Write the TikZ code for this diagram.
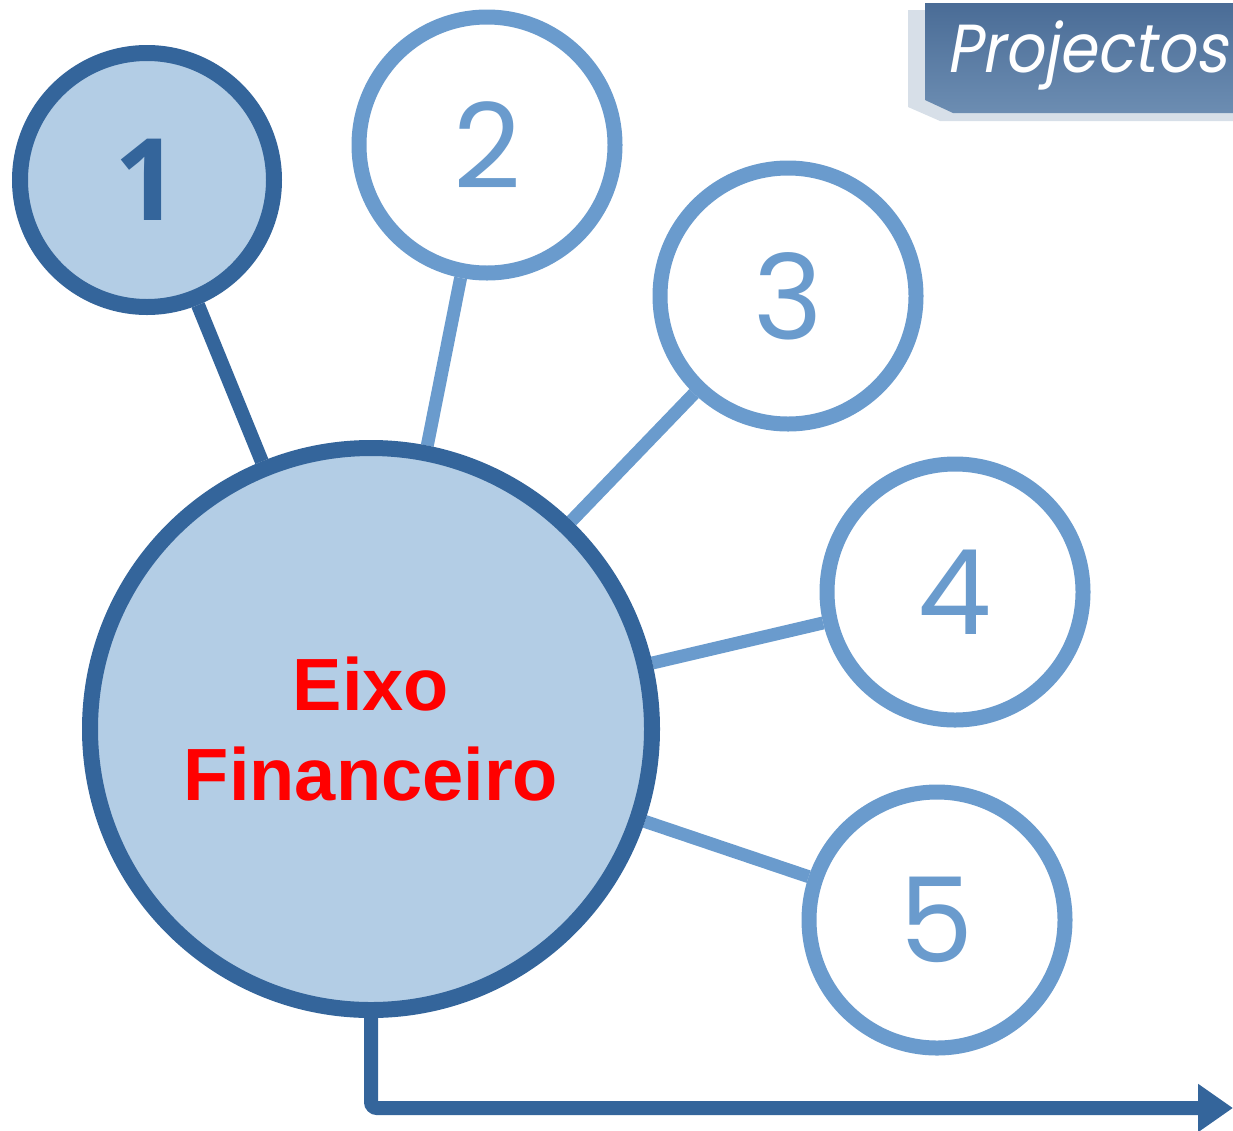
\documentclass[tikz,border=0pt]{standalone}
\usepackage{fontspec}
\setmainfont{Liberation Sans}
\newfontfamily\popfont{Poppins}[AutoFakeSlant=0.2]
\newfontfamily\onefont{Open Sans}
\usetikzlibrary{arrows.meta,backgrounds,shadings}
\definecolor{darkblue}{HTML}{34659B}
\definecolor{lightblue}{HTML}{6A9BCD}
\definecolor{fillblue}{HTML}{B3CDE5}
\definecolor{boxtop}{HTML}{4A6C96}
\definecolor{boxbot}{HTML}{6C8DB2}
\definecolor{shadowc}{HTML}{BCCAD9}
\begin{document}
\begin{tikzpicture}[x=1pt,y=-1pt,
  smallnode/.style={circle,inner sep=0pt,minimum size=256pt,line width=15pt,draw=lightblue,fill=white,
     text=lightblue,font=\popfont\fontsize{118}{118}\selectfont},
  firstnode/.style={circle,inner sep=0pt,minimum size=254pt,line width=16pt,draw=darkblue,fill=fillblue,
     text=darkblue,font=\onefont\bfseries\fontsize{114}{114}\selectfont},
  mainnode/.style={circle,inner sep=0pt,minimum size=562pt,line width=16pt,draw=darkblue,fill=fillblue,
     text=red,font=\bfseries\fontsize{74}{90}\selectfont,align=center},
  darkline/.style={draw=darkblue,line width=14pt},
  lightline/.style={draw=lightblue,line width=13pt}]
\useasboundingbox (0,0) rectangle (1233,1130);
% Projectos box
\fill[shadowc,opacity=0.6] (908,10) -- (1233,10) -- (1233,121) -- (940,121) -- (908,107) -- cycle;
\shade[top color=boxtop,bottom color=boxbot] (925,3) -- (1233,3) -- (1233,113) -- (953,113) -- (925,100) -- cycle;
\node[text=white,anchor=base west,inner sep=0pt,font=\popfont\itshape\fontsize{68}{68}\selectfont] (proj) at (946,72) {\scalebox{0.9}[1]{Projectos}};
% circles
\node[mainnode] (main) at (371,729) {Eixo\\Financeiro};
\node[firstnode] (c1) at (147,180) {1};
\node[smallnode] (c2) at (487,145) {2};
\node[smallnode] (c3) at (788,296) {3};
\node[smallnode] (c4) at (955,592) {4};
\node[smallnode] (c5) at (937,920) {5};
\coordinate (corner) at (371,1108);
\coordinate (tipend) at (1233,1108);
\begin{scope}[on background layer]
\draw[darkline] (c1) -- (main);
\draw[lightline] (c2) -- (main);
\draw[lightline] (c3) -- (main);
\draw[lightline] (c4) -- (main);
\draw[lightline] (c5) -- (main);
\draw[darkline,rounded corners=6pt,-{Triangle[length=35pt,width=46pt]}] (main.south) -- (corner) -- (tipend);
\end{scope}
\end{tikzpicture}
\end{document}
